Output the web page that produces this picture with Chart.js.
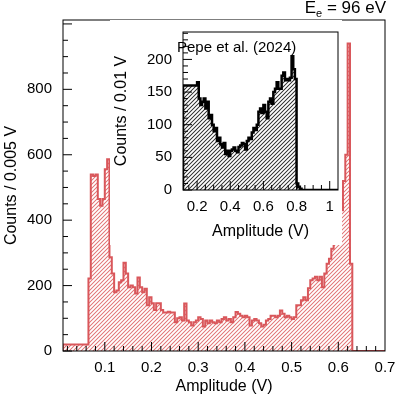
<!DOCTYPE html>
<html>
<head>
<script src="https://cdn.jsdelivr.net/npm/chart.js@4"></script>
<style>
  body { margin: 0; background: #fff; }
  #wrap { position: relative; width: 400px; height: 400px; font-family: "Liberation Sans", Arial, sans-serif; }
  #main { position: absolute; left: 0; top: 0; }
  #inset { position: absolute; left: 110px; top: 20px; background: #fff; }
  #energy { position: absolute; right: 14px; top: -2px; font-size: 17px; }
  #ref { position: absolute; left: 177px; top: 38px; font-size: 15px; }
</style>
</head>
<body>
<div id="wrap">
  <canvas id="main" width="400" height="400"></canvas>
  <canvas id="inset" width="232" height="225"></canvas>
  <div id="energy">E<sub style="font-size:11px">e</sub> = 96 eV</div>
  <div id="ref">Pepe et al. (2024)</div>
</div>
<script>
// main histogram: 0.005 V bins starting at 0.065 V
const mainStart = 0.065;
const mainWidth = 0.005;
const mainCounts = [
  20, 222, 540, 535, 540, 465, 444, 465, 556, 586, 287, 237, 180, 185, 210, 216,
  270, 237, 195, 200, 195, 176, 225, 195, 180, 190, 140, 164, 146, 125, 146, 146,
  125, 118, 118, 120, 118, 118, 88,
  100, 103, 93, 145, 93, 88, 78, 88, 93, 103, 98, 75, 93, 85,
  93, 88, 85, 93, 88, 98, 103, 93, 98, 88, 103, 119, 114, 108, 103, 108,
  103, 78, 93, 98, 93, 85, 75, 80, 93, 98, 108, 108, 103, 108, 124, 114,
  103, 108, 103, 98, 103, 140, 140, 155, 164, 155, 192, 216, 222, 227, 216, 227,
  195, 237, 267, 282, 313, 337, 358, 389, 430, 520, 600, 940, 267
];
// inset histogram: 0.01 V bins starting at 0.20 V
const insetStart = 0.20;
const insetWidth = 0.01;
const insetCounts = [
  160, 165, 140, 130, 135, 140, 125, 135, 110, 115, 100, 90, 95, 75, 80, 70,
  65, 72, 55, 60, 52, 60, 62, 65, 60, 58, 66, 68, 72, 70, 62, 75,
  80, 78, 88, 95, 92, 100, 120, 125, 118, 130, 120, 110, 135, 140, 132, 150,
  155, 165, 155, 155, 175, 180, 168, 170, 168, 172, 205, 185, 170, 10, 5, 2
];
const mainXTicks = [0.1, 0.2, 0.3, 0.4, 0.5, 0.6, 0.7];
const mainYTicks = [0, 200, 400, 600, 800];
const insetXTicks = [0.2, 0.4, 0.6, 0.8, 1];
const insetYTicks = [0, 50, 100, 150, 200];

function toSteps(start, width, counts, xMin, xMax) {
  const pts = [{ x: xMin, y: 0 }];
  counts.forEach((c, i) => pts.push({ x: start + i * width, y: c }));
  pts.push({ x: start + counts.length * width, y: 0 });
  pts.push({ x: xMax, y: 0 });
  return pts;
}

// hatch tile built pixel by pixel (stroked tiles lose their colour here)
function hatch(rgb, alpha) {
  const c = document.createElement("canvas");
  c.width = 4; c.height = 4;
  const g = c.getContext("2d");
  const img = g.createImageData(4, 4);
  for (let y = 0; y < 4; y++) {
    for (let x = 0; x < 4; x++) {
      const d = (x + y) % 4;
      const a = d === 3 ? alpha : (d === 2 || d === 0 ? alpha * 0.25 : 0);
      const i = (y * 4 + x) * 4;
      img.data[i] = rgb[0]; img.data[i + 1] = rgb[1]; img.data[i + 2] = rgb[2];
      img.data[i + 3] = a;
    }
  }
  g.putImageData(img, 0, 0);
  return c;
}

// ROOT-like inward ticks plus frame
const innerTicks = {
  id: "innerTicks",
  afterDraw(chart, args, opts) {
    const { ctx, chartArea: a, scales } = chart;
    ctx.save();
    ctx.strokeStyle = "#000";
    ctx.lineWidth = 1;
    ctx.strokeRect(a.left, a.top, a.right - a.left, a.bottom - a.top);
    ctx.beginPath();
    for (let v = opts.xMin; v <= opts.xMax + 1e-9; v += opts.xMinor) {
      const px = scales.x.getPixelForValue(v);
      if (px < a.left || px > a.right) continue;
      const major = Math.abs(v / opts.xMajor - Math.round(v / opts.xMajor)) < 1e-6;
      const len = major ? 9 : 5;
      ctx.moveTo(px, a.bottom); ctx.lineTo(px, a.bottom - len);
    }
    for (let v = 0; v <= scales.y.max; v += opts.yMinor) {
      const py = scales.y.getPixelForValue(v);
      const major = Math.abs(v / opts.yMajor - Math.round(v / opts.yMajor)) < 1e-6;
      const len = major ? 9 : 5;
      ctx.moveTo(a.left, py); ctx.lineTo(a.left + len, py);
    }
    ctx.stroke();
    ctx.restore();
  }
};

function makeChart(id, counts, start, width, color, tile, lineW, xMin, xMax, yMax, xTicks, yTicks, yLabel, fontSize, fix, tickOpts) {
  const canvas = document.getElementById(id);
  const pattern = canvas.getContext("2d").createPattern(tile, "repeat");
  return new Chart(canvas, {
    type: "line",
    data: {
      datasets: [{
        data: toSteps(start, width, counts, xMin, xMax),
        stepped: "after",
        borderColor: color,
        borderWidth: lineW,
        pointRadius: 0,
        fill: "origin",
        backgroundColor: pattern
      }]
    },
    options: {
      responsive: false,
      animation: false,
      layout: { padding: fix.pad },
      plugins: { legend: { display: false }, tooltip: { enabled: false }, innerTicks: tickOpts },
      scales: {
        x: {
          type: "linear", min: xMin, max: xMax,
          afterBuildTicks: s => { s.ticks = xTicks.map(v => ({ value: v })); },
          ticks: { color: "#000", font: { size: fontSize, family: "Liberation Sans" }, padding: 0, maxRotation: 0,
                   callback: v => String(v) },
          grid: { display: false },
          border: { display: false },
          title: { display: true, text: "Amplitude (V)", color: "#000", font: { size: fontSize + 1, family: "Liberation Sans" }, padding: { top: 2 } },
          afterFit: s => { s.height = fix.xh; }
        },
        y: {
          min: 0, max: yMax,
          afterBuildTicks: s => { s.ticks = yTicks.map(v => ({ value: v })); },
          ticks: { color: "#000", font: { size: fontSize, family: "Liberation Sans" }, padding: 3,
                   callback: v => String(v) },
          grid: { display: false },
          border: { display: false },
          title: { display: true, text: yLabel, color: "#000", font: { size: fontSize + 1, family: "Liberation Sans" }, padding: 2 },
          afterFit: s => { s.width = fix.yw; }
        }
      }
    },
    plugins: [innerTicks]
  });
}

makeChart("main", mainCounts, mainStart, mainWidth, "#d9575b", hatch([224, 110, 112], 230), 2,
  0.0105, 0.7, 1012, mainXTicks, mainYTicks, "Counts / 0.005 V", 15,
  { pad: { top: 20, right: 15, left: 0, bottom: 0 }, xh: 49, yw: 63 },
  { xMin: 0, xMax: 0.7, xMinor: 0.02, xMajor: 0.1, yMinor: 50, yMajor: 200 });

makeChart("inset", insetCounts, insetStart, insetWidth, "#000", hatch([40, 40, 40], 230), 2.5,
  0.115, 1.05, 242, insetXTicks, insetYTicks, "Counts / 0.01 V", 15,
  { pad: { top: 10, right: 4, left: 0, bottom: 0 }, xh: 55, yw: 73 },
  { xMin: 0, xMax: 1.05, xMinor: 0.05, xMajor: 0.2, yMinor: 10, yMajor: 50 });
</script>
</body>
</html>
